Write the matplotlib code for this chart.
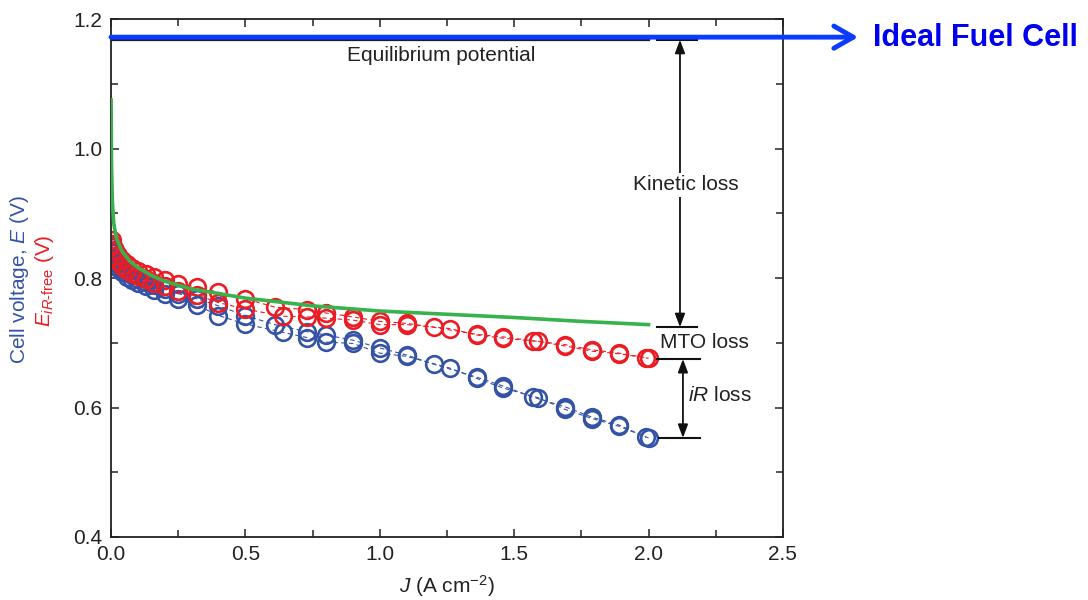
import matplotlib
matplotlib.use('Agg')
import matplotlib.pyplot as plt
from matplotlib.ticker import MultipleLocator

plt.rcParams['font.family'] = ['Liberation Sans', 'DejaVu Sans']
plt.rcParams['mathtext.fontset'] = 'custom'
plt.rcParams['mathtext.rm'] = 'Liberation Sans'
plt.rcParams['mathtext.it'] = 'Liberation Sans:italic'
plt.rcParams['mathtext.bf'] = 'Liberation Sans:bold'

# polarization data, two sweeps (A cm-2, V)
j_run1 = [0.003, 0.008, 0.015, 0.025, 0.04, 0.06, 0.08, 0.10, 0.13, 0.16, 0.20, 0.25, 0.32, 0.40, 0.50,
          0.61, 0.73, 0.80, 0.90, 1.00, 1.10, 1.20, 1.36, 1.46, 1.57, 1.69, 1.79, 1.89, 1.99]
e_free_run1 = [0.858, 0.850, 0.843, 0.836, 0.828, 0.821, 0.816, 0.811, 0.806, 0.802, 0.797, 0.791, 0.786, 0.778, 0.768,
               0.755, 0.751, 0.746, 0.740, 0.733, 0.730, 0.724, 0.713, 0.709, 0.703, 0.697, 0.689, 0.684, 0.677]
e_cell_run1 = [0.848, 0.838, 0.830, 0.823, 0.816, 0.809, 0.804, 0.799, 0.794, 0.789, 0.783, 0.776, 0.768, 0.757, 0.742,
               0.728, 0.717, 0.712, 0.704, 0.692, 0.681, 0.667, 0.647, 0.633, 0.616, 0.601, 0.585, 0.573, 0.554]

j_run2 = [0.003, 0.008, 0.015, 0.025, 0.04, 0.06, 0.08, 0.10, 0.13, 0.16, 0.20, 0.25, 0.32, 0.40, 0.50,
          0.64, 0.73, 0.80, 0.90, 1.00, 1.10, 1.26, 1.36, 1.46, 1.59, 1.69, 1.79, 1.89, 2.00]
e_free_run2 = [0.852, 0.842, 0.834, 0.827, 0.819, 0.813, 0.808, 0.803, 0.798, 0.793, 0.787, 0.780, 0.774, 0.762, 0.752,
               0.741, 0.740, 0.738, 0.735, 0.728, 0.728, 0.722, 0.712, 0.707, 0.702, 0.695, 0.687, 0.683, 0.676]
e_cell_run2 = [0.842, 0.831, 0.823, 0.816, 0.809, 0.802, 0.797, 0.792, 0.787, 0.782, 0.775, 0.767, 0.758, 0.742, 0.729,
               0.716, 0.708, 0.701, 0.699, 0.684, 0.679, 0.661, 0.645, 0.630, 0.615, 0.597, 0.583, 0.571, 0.553]

# kinetic (Tafel) model curve
j_model = [0.0005, 0.002, 0.005, 0.01, 0.02, 0.04, 0.07, 0.1, 0.15, 0.2, 0.3, 0.4, 0.5, 0.75, 1.0, 1.25, 1.5, 1.75, 2.0]
e_model = [1.075, 0.975, 0.920, 0.885, 0.862, 0.842, 0.826, 0.816, 0.804, 0.795, 0.783, 0.776, 0.769, 0.757, 0.749,
           0.744, 0.739, 0.733, 0.728]

e_equilibrium = 1.168
e_ideal = 1.172

blue = '#3553a5'
red = '#ec1c24'
green = '#37b24d'
arrow_blue = '#0a3cff'

fig = plt.figure(figsize=(10.88, 6), dpi=100)
ax = fig.add_axes([0.102, 0.105, 0.6176, 0.8633])

for j, ef, ec in [(j_run1, e_free_run1, e_cell_run1), (j_run2, e_free_run2, e_cell_run2)]:
    ax.plot(j, ec, color=blue, lw=0.8, dashes=(4, 3), marker='o', ms=12, mfc='none', mec=blue, mew=1.9)
    ax.plot(j, ef, color=red, lw=0.8, dashes=(4, 3), marker='o', ms=12, mfc='none', mec=red, mew=1.9)

ax.plot(j_model, e_model, color=green, lw=2.6, zorder=5)

# equilibrium potential and the ideal cell arrow
ax.plot([0, 2.0], [e_equilibrium, e_equilibrium], color='#1a1a2a', lw=1.6, zorder=6)
ax.annotate('', xy=(2.78, e_ideal), xytext=(0, e_ideal), annotation_clip=False, zorder=7,
            arrowprops=dict(arrowstyle='->,head_length=1.4,head_width=0.8', lw=3.5, color=arrow_blue,
                            shrinkA=0, shrinkB=0))
fig.text(873 / 1088, 1 - 38 / 600, 'Ideal Fuel Cell', color='#0000ee', fontsize=22, fontweight='bold',
         ha='left', va='center')
ax.text(0.878, 1.144, 'Equilibrium potential', fontsize=15, color='#222222', ha='left', va='center',
        bbox=dict(facecolor='white', edgecolor='none', pad=2), zorder=6)

# loss brackets
e_kin = e_model[-1] - 0.004
e_mto = e_free_run2[-1] - 0.001
e_ir = e_cell_run2[-1]
for y, x0, x1 in [(e_equilibrium, 2.03, 2.18), (e_kin, 2.03, 2.18), (e_mto, 2.03, 2.19), (e_ir, 2.04, 2.19)]:
    ax.plot([x0, x1], [y, y], color='#111111', lw=1.5, clip_on=False, zorder=6)

arrow_kw = dict(arrowstyle='<|-|>,head_length=0.8,head_width=0.3', lw=1.3, color='#111111', shrinkA=0, shrinkB=0)
ax.annotate('', xy=(2.117, e_kin), xytext=(2.117, e_equilibrium), arrowprops=arrow_kw)
ax.annotate('', xy=(2.128, e_ir), xytext=(2.128, e_mto), arrowprops=arrow_kw)

ax.text(2.137, 0.944, 'Kinetic loss', fontsize=15, color='#222222', ha='center', va='center',
        bbox=dict(facecolor='white', edgecolor='none', pad=2), zorder=8)
ax.text(2.043, 0.700, 'MTO loss', fontsize=15, color='#222222', ha='left', va='center')
ax.text(2.147, 0.618, '$\\mathit{iR}$ loss', fontsize=15, color='#222222', ha='left', va='center')

ax.set_xlim(0, 2.5)
ax.set_ylim(0.4, 1.2)
ax.xaxis.set_major_locator(MultipleLocator(0.5))
ax.xaxis.set_minor_locator(MultipleLocator(0.25))
ax.yaxis.set_major_locator(MultipleLocator(0.2))
ax.yaxis.set_minor_locator(MultipleLocator(0.1))
ax.xaxis.set_major_formatter(lambda v, p: f'{v:.1f}')
ax.yaxis.set_major_formatter(lambda v, p: f'{v:.1f}')
ax.tick_params(which='both', direction='in', top=True, right=True, width=1.1, colors='#222222',
               labelsize=15, pad=6)
ax.tick_params(which='major', length=6)
ax.tick_params(which='minor', length=5)
for s in ax.spines.values():
    s.set_linewidth(1.3)
    s.set_color('#222222')

ax.set_xlabel('$\\mathit{J}$ (A cm$^{-2}$)', fontsize=15, color='#222222', labelpad=6)
fig.text(20 / 1088, 1 - 280 / 600, 'Cell voltage, $\\mathit{E}$ (V)', color=blue, fontsize=15,
         rotation=90, ha='center', va='center')
fig.text(45 / 1088, 1 - 281 / 600, '$\\mathit{E}_{\\mathit{iR}\\text{-free}}$ (V)', color=red, fontsize=15,
         rotation=90, ha='center', va='center')

fig.savefig('out.png', dpi=100)
